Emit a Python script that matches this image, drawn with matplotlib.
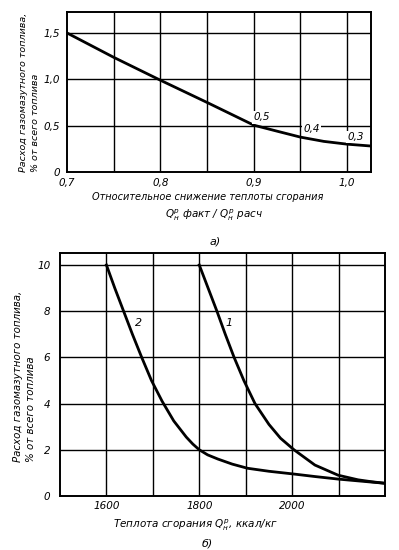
import matplotlib
matplotlib.use("Agg")
import matplotlib.pyplot as plt
import numpy as np

plt.rcParams['font.family'] = ['DejaVu Sans']
plt.rcParams['font.style'] = 'italic'
plt.rcParams['mathtext.fontset'] = 'dejavusans'

# Верхний график (а)
top_x = [0.70, 0.75, 0.80, 0.85, 0.90, 0.925, 0.95, 0.975, 1.00, 1.0255]
top_y = [1.50, 1.237, 0.99, 0.75, 0.505, 0.44, 0.376, 0.33, 0.30, 0.28]
top_xticks = [0.7, 0.8, 0.9, 1.0]
top_xticklabels = ['0,7', '0,8', '0,9', '1,0']
top_yticks = [0, 0.5, 1.0, 1.5]
top_yticklabels = ['0', '0,5', '1,0', '1,5']
top_notes = [(0.9085, 0.59, '0,5'), (0.962, 0.46, '0,4'), (1.009, 0.376, '0,3')]

# Нижний график (б)
c2_x = [1600, 1618, 1637, 1656, 1676, 1697, 1720, 1745, 1772, 1786, 1800,
        1818, 1840, 1871, 1904, 1950, 2004, 2050, 2100, 2150, 2200]
c2_y = [10.0, 9.0, 8.0, 7.0, 6.0, 5.0, 4.1, 3.25, 2.55, 2.25, 2.0,
        1.78, 1.6, 1.38, 1.2, 1.07, 0.95, 0.84, 0.73, 0.64, 0.55]
c1_x = [1800, 1819, 1838, 1856, 1875, 1896, 1920, 1950, 1975, 2004,
        2049, 2099, 2142, 2170, 2200]
c1_y = [10.0, 9.0, 8.0, 7.0, 6.0, 5.0, 4.0, 3.1, 2.5, 2.0,
        1.34, 0.90, 0.70, 0.62, 0.55]
bot_xticks = [1600, 1800, 2000]
bot_yticks = [0, 2, 4, 6, 8, 10]
bot_notes = [(1669, 7.47, '2'), (1865, 7.47, '1')]

ylabel_text = 'Расход газомазутного топлива,\n% от всего топлива'

fig = plt.figure(figsize=(3.99, 5.5), dpi=100)

# --- а) ---
ax1 = fig.add_axes([0.1679, 0.6873, 0.7619, 0.2909])
ax1.set_xlim(0.7, 1.0255)
ax1.set_ylim(0, 1.726)
for x in np.arange(0.75, 1.01, 0.05):
    ax1.axvline(x, color='black', lw=1.0, zorder=1)
for y in [0.5, 1.0, 1.5]:
    ax1.axhline(y, color='black', lw=1.0, zorder=1)
ax1.plot(top_x, top_y, color='black', lw=2.0, zorder=3)
for x, y, s in top_notes:
    ax1.text(x, y, s, fontsize=7.5, ha='center', va='center', zorder=4,
             bbox=dict(facecolor='white', edgecolor='none', pad=1.0))
ax1.set_xticks(top_xticks)
ax1.set_xticklabels(top_xticklabels)
ax1.set_yticks(top_yticks)
ax1.set_yticklabels(top_yticklabels)
ax1.tick_params(axis='x', length=0, labelsize=7.5, pad=4.3)
ax1.tick_params(axis='y', length=0, labelsize=7.5, pad=5)
for sp in ax1.spines.values():
    sp.set_linewidth(1.4)
fig.text(0.074, 0.687, ylabel_text, fontsize=6.8, rotation=90, ha='center',
         va='bottom', multialignment='left', linespacing=1.45)
fig.text(0.52, 0.642, 'Относительное снижение теплоты сгорания', fontsize=7,
         ha='center', va='center')
fig.text(0.536, 0.609, r'$Q_н^р$ факт / $Q_н^р$ расч', fontsize=7.5,
         ha='center', va='center')
fig.text(0.539, 0.56, 'а)', fontsize=8, ha='center', va='center')

# --- б) ---
ax2 = fig.add_axes([0.1504, 0.0982, 0.8145, 0.4418])
ax2.set_xlim(1500, 2200)
ax2.set_ylim(0, 10.52)
for x in range(1600, 2200, 100):
    ax2.axvline(x, color='black', lw=1.0, zorder=1)
for y in [2, 4, 6, 8, 10]:
    ax2.axhline(y, color='black', lw=1.0, zorder=1)
ax2.plot(c2_x, c2_y, color='black', lw=2.0, zorder=3)
ax2.plot(c1_x, c1_y, color='black', lw=2.0, zorder=3)
for x, y, s in bot_notes:
    ax2.text(x, y, s, fontsize=8, ha='center', va='center', zorder=4)
ax2.set_xticks(bot_xticks)
ax2.set_yticks(bot_yticks)
ax2.tick_params(axis='x', length=0, labelsize=7.5, pad=3.6)
ax2.tick_params(axis='y', length=0, labelsize=7.5, pad=7)
for sp in ax2.spines.values():
    sp.set_linewidth(1.4)
fig.text(0.061, 0.16, ylabel_text, fontsize=7.4, rotation=90, ha='center',
         va='bottom', multialignment='left', linespacing=1.45)
fig.text(0.491, 0.0455, r'Теплота сгорания $Q_н^р$, ккал/кг', fontsize=7.5,
         ha='center', va='center')
fig.text(0.519, 0.011, 'б)', fontsize=8, ha='center', va='center')

fig.savefig('out.png', dpi=100)
